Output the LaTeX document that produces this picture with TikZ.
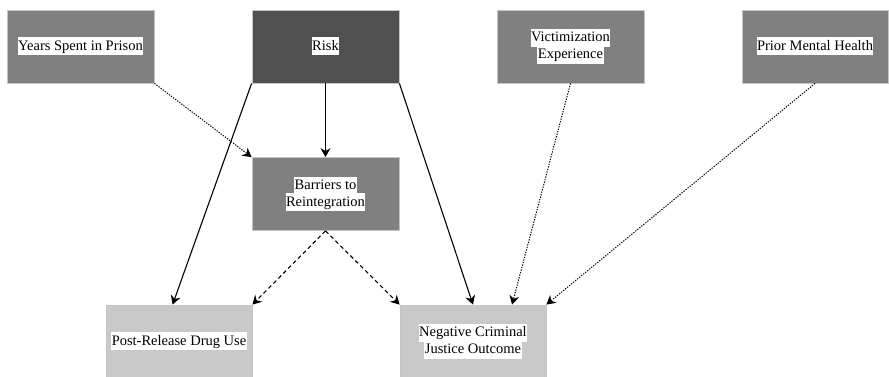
\documentclass[tikz,border=0pt]{standalone}
\usepackage{fontspec}
\setmainfont{Liberation Serif}
\usetikzlibrary{arrows.meta}

\definecolor{riskfill}{HTML}{505050}
\definecolor{midfill}{HTML}{808080}
\definecolor{lightfill}{HTML}{C9C9C9}
\definecolor{edgegray}{HTML}{C4C4C4}

% one text line on a tight white strip
\newcommand\lbl[1]{{\setlength\fboxsep{0.5pt}\colorbox{white}{\vrule height 12.5pt depth 4.5pt width 0pt #1}}}

\tikzset{
  factor/.style={draw=edgegray, line width=0.8pt, minimum width=147pt, minimum height=73pt,
    inner sep=0pt, align=center, font=\fontsize{14.5}{18}\selectfont},
  darkbox/.style={factor, fill=riskfill},
  midbox/.style={factor, fill=midfill},
  lightbox/.style={factor, fill=lightfill},
  tip/.style={-{Stealth[length=9pt,width=10pt,inset=3pt]}},
  direct/.style={tip, line width=1.1pt},
  mediated/.style={tip, line width=1.1pt, dash pattern=on 4pt off 3pt},
  control/.style={tip, line width=1pt, dash pattern=on 1.3pt off 1.3pt},
}

\begin{document}
\begin{tikzpicture}[x=1pt, y=-1pt]
\useasboundingbox (0,0) rectangle (889,377);

% top row: predictors
\node[midbox]  (years) at (80.5,46.5)  {\lbl{Years Spent in Prison}};
\node[darkbox] (risk)  at (325.5,46.5) {\lbl{Risk}};
\node[midbox]  (vict)  at (570.5,46.5) {\lbl{Victimization}\\[-1pt]\lbl{Experience}};
\node[midbox, minimum width=146pt] (prior) at (815,46.5) {\lbl{Prior Mental Health}};

% mediator
\node[midbox] (barr) at (325.5,194) {\lbl{Barriers to}\\[-1pt]\lbl{Reintegration}};

% outcomes
\node[lightbox, minimum width=146pt, minimum height=72pt] (post) at (179,341) {\lbl{Post-Release Drug Use}};
\node[lightbox, minimum width=146pt, minimum height=72pt] (neg)  at (473,341) {\lbl{Negative Criminal}\\[-1pt]\lbl{Justice Outcome}};

% paths
\draw[control]  (years.south east) -- (barr.north west);
\draw[direct]   (risk.south) -- (barr.north);
\draw[direct]   (risk.south west) -- (post.100);
\draw[direct]   (risk.south east) -- (neg.north);
\draw[control]  (vict.south) -- (neg.43);
\draw[control]  (prior.south) -- (neg.north east);
\draw[mediated] (barr.south) -- (post.north east);
\draw[mediated] (barr.south) -- (neg.north west);
\end{tikzpicture}
\end{document}
